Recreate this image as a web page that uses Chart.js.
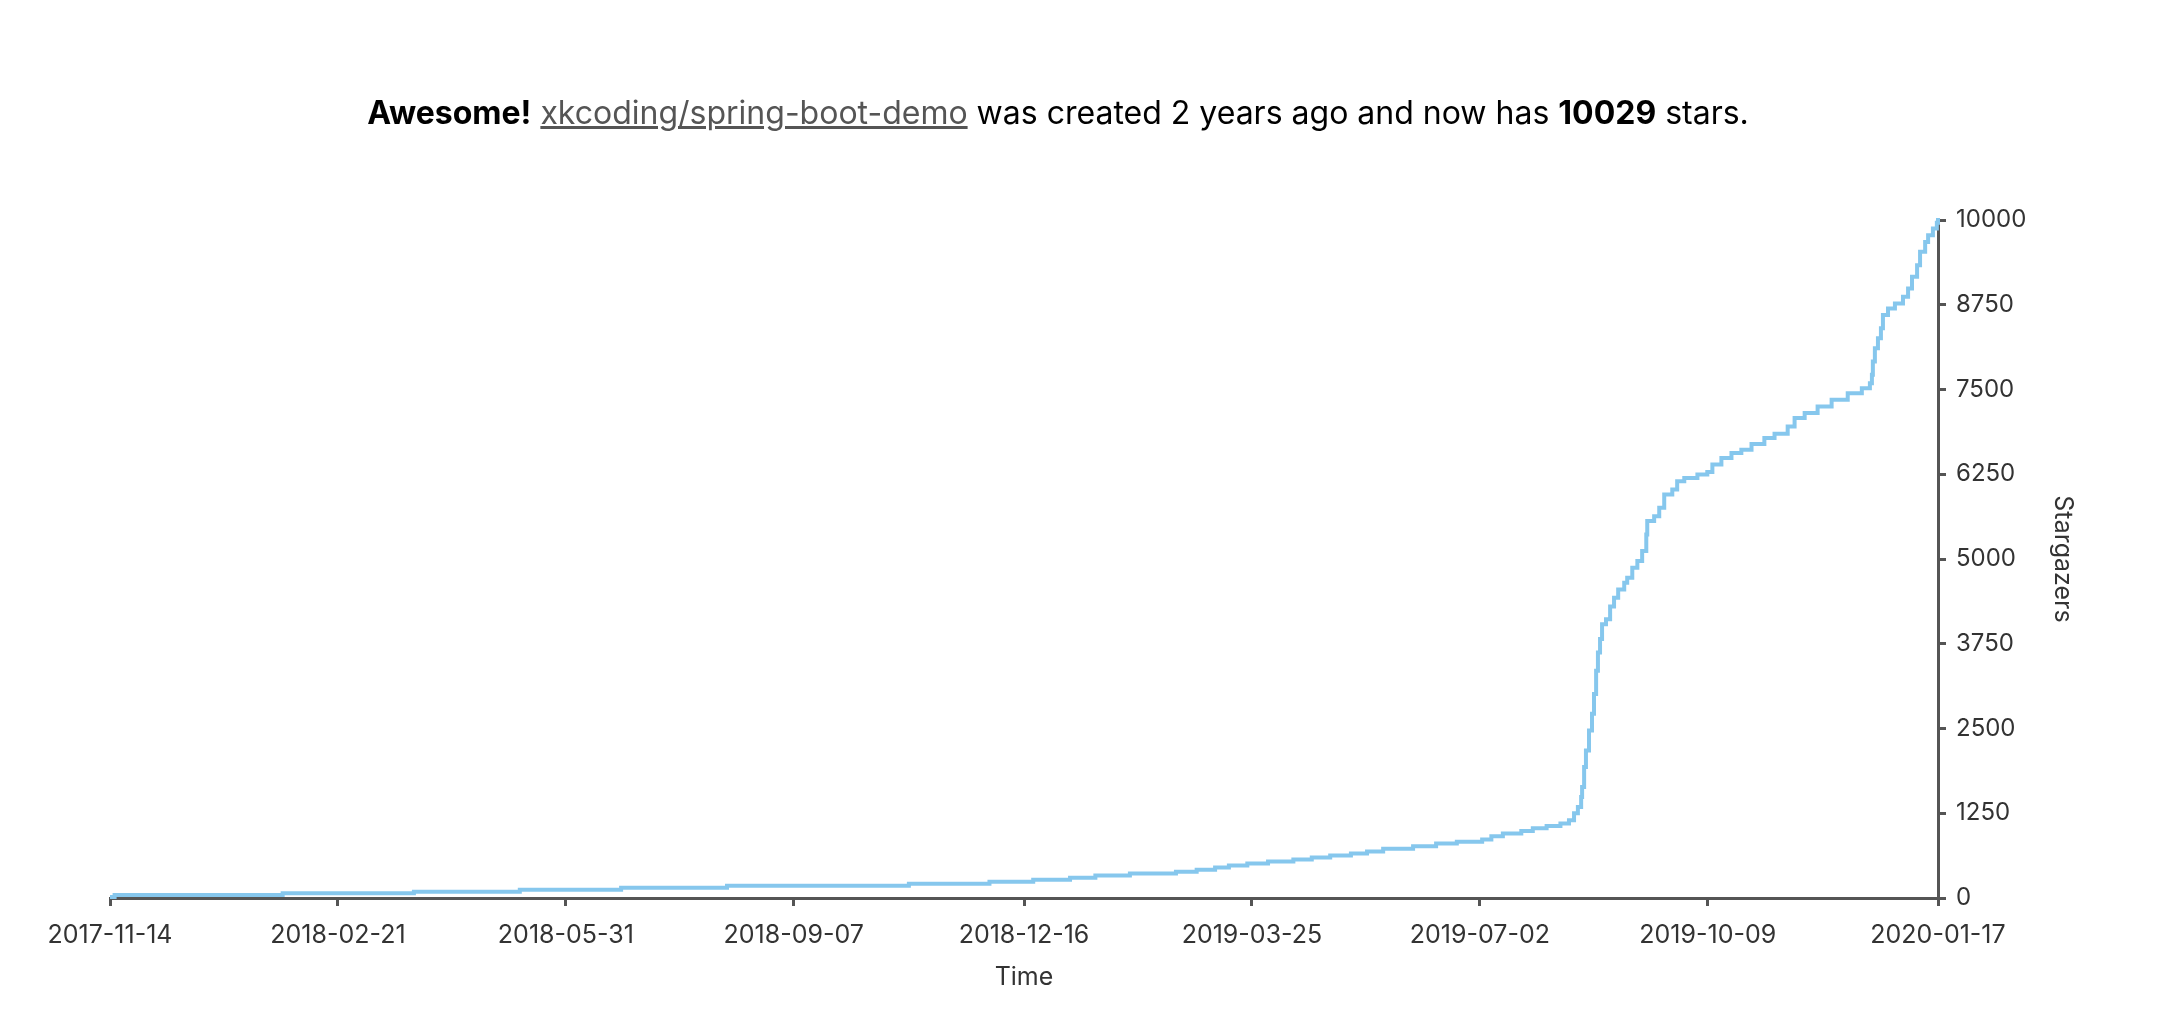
<!DOCTYPE html>
<html>
<head>
<meta charset="utf-8">
<script src="https://cdn.jsdelivr.net/npm/chart.js@4.4.1/dist/chart.umd.min.js"></script>
<style>
html,body{margin:0;padding:0;background:#fff;}
#wrap{position:relative;width:2160px;height:1014px;overflow:hidden;}
#title{position:absolute;left:0;width:2116px;top:91px;text-align:center;font-family:Inter,"Noto Sans",sans-serif;font-size:32px;color:#000;line-height:44px;white-space:nowrap;}
#title a{color:#555;text-decoration:underline;}
#chart{position:absolute;left:0;top:0;}
</style>
</head>
<body>
<div id="wrap">
<canvas id="chart" width="2160" height="1014"></canvas>
<div id="title"><b>Awesome!</b> <a>xkcoding/spring-boot-demo</a> was created 2 years ago and now has <b>10029</b> stars.</div>
</div>
<script>
const starDates = [
 "2017-11-14","2017-11-16","2018-01-28","2018-03-26","2018-05-11","2018-06-24","2018-08-09",
 "2018-10-27","2018-12-01","2018-12-20","2019-01-05","2019-01-16","2019-01-31","2019-02-20",
 "2019-03-01","2019-03-09","2019-03-15","2019-03-23","2019-04-01","2019-04-12","2019-04-20",
 "2019-04-28","2019-05-07","2019-05-14","2019-05-21","2019-06-03","2019-06-13","2019-06-22",
 "2019-07-03","2019-07-07","2019-07-12","2019-07-20","2019-07-25","2019-07-31","2019-08-06",
 "2019-08-09 17:00","2019-08-11 22:00","2019-08-13 14:00","2019-08-15 00:00","2019-08-15 10:00",
 "2019-08-16 07:00","2019-08-17 02:00","2019-08-18 10:00","2019-08-19 17:00","2019-08-20 14:00",
 "2019-08-21 12:00","2019-08-22 07:00","2019-08-23 05:00","2019-08-24 02:00","2019-08-25 19:00",
 "2019-08-27 14:00","2019-08-29 07:00","2019-08-31 02:00","2019-09-02 17:00","2019-09-04 00:00",
 "2019-09-06 05:00","2019-09-08 10:00","2019-09-10 12:00","2019-09-12 07:00","2019-09-12 17:00",
 "2019-09-15 17:00","2019-09-17 22:00","2019-09-20 02:00","2019-09-23 14:00","2019-09-25 17:00",
 "2019-09-28 19:00","2019-10-04 12:00","2019-10-08 19:00","2019-10-11 00:00","2019-10-14 22:00",
 "2019-10-19 07:00","2019-10-23 14:00","2019-10-28 00:00","2019-11-02 14:00","2019-11-07 00:00",
 "2019-11-12 17:00","2019-11-15 17:00","2019-11-20 02:00","2019-11-25 17:00","2019-12-01 19:00",
 "2019-12-08 19:00","2019-12-14 22:00","2019-12-18 10:00","2019-12-19 07:00","2019-12-19 17:00",
 "2019-12-20 14:00","2019-12-21 22:00","2019-12-23 05:00","2019-12-24 02:00","2019-12-26 07:00",
 "2019-12-29 07:00","2020-01-01 19:00","2020-01-04 00:00","2020-01-05 17:00","2020-01-07 22:00",
 "2020-01-09 05:00","2020-01-11 10:00","2020-01-12 17:00","2020-01-14 19:00","2020-01-16 12:00",
 "2020-01-17 00:00"
];
const starCounts = [
 15,44,69,93,122,152,181,
 210,240,269,299,333,363,387,
 416,451,481,510,539,569,598,
 628,657,687,725,765,804,828,
 863,912,951,990,1029,1063,1097,
 1147,1250,1341,1488,1637,
 1931,2176,2470,2716,3010,
 3353,3622,3819,4039,4113,
 4300,4430,4550,4650,4725,
 4872,4971,5118,5363,5559,
 5632,5755,5951,6025,6147,
 6196,6245,6284,6392,6490,
 6564,6613,6696,6784,6848,
 6956,7078,7152,7250,7348,
 7446,7520,7593,7716,7912,
 8108,8255,8402,8598,8696,
 8770,8868,8990,9162,9334,
 9530,9677,9775,9873,9961,
 10029
];
const xTickLabels = ["2017-11-14","2018-02-21","2018-05-31","2018-09-07","2018-12-16","2019-03-25","2019-07-02","2019-10-09","2020-01-17"];
const yTickValues = [0,1250,2500,3750,5000,6250,7500,8750,10000];

function toMs(s){
  const parts = s.split(" ");
  const d = parts[0].split("-").map(Number);
  let h = 0, m = 0;
  if (parts[1]) { const t = parts[1].split(":").map(Number); h = t[0]; m = t[1] || 0; }
  return Date.UTC(d[0], d[1]-1, d[2], h, m);
}
const points = starDates.map((d,i) => ({x: toMs(d), y: starCounts[i]}));
const xTickValues = xTickLabels.map(toMs);

const FONT = "Inter";
const axisColor = "#555";
const labelColor = "#333";

new Chart(document.getElementById("chart"), {
  type: "line",
  data: { datasets: [{
    data: points,
    borderColor: "#86c7ed",
    borderWidth: 4,
    pointRadius: 0,
    stepped: true,
    fill: false,
    clip: false
  }]},
  options: {
    responsive: false,
    animation: false,
    devicePixelRatio: 1,
    layout: { padding: { left: 110, top: 220, right: 0, bottom: 0 } },
    plugins: { legend: { display: false }, tooltip: { enabled: false }, title: { display: false } },
    scales: {
      x: {
        type: "linear",
        position: "bottom",
        min: xTickValues[0],
        max: xTickValues[xTickValues.length-1],
        afterBuildTicks: s => { s.ticks = xTickValues.map(v => ({value: v})); },
        afterFit: s => { s.height = 116; },
        ticks: {
          autoSkip: false, maxRotation: 0, minRotation: 0,
          callback: (v, i) => xTickLabels[i],
          font: { family: FONT, size: 25 }, color: labelColor, padding: 14
        },
        grid: { drawOnChartArea: false, drawTicks: true, tickLength: 8, color: axisColor, lineWidth: 3 },
        border: { display: true, color: axisColor, width: 3 },
        title: { display: true, text: "Time", font: { family: FONT, size: 25 }, color: labelColor, padding: { top: 0, bottom: 22 } }
      },
      y: {
        type: "linear",
        position: "right",
        min: 0, max: 10000,
        afterBuildTicks: s => { s.ticks = yTickValues.map(v => ({value: v})); },
        afterFit: s => { s.width = 222; },
        ticks: {
          callback: v => String(v),
          font: { family: FONT, size: 24 }, color: labelColor, padding: 10
        },
        grid: { drawOnChartArea: false, drawTicks: true, tickLength: 8, color: axisColor, lineWidth: 3 },
        border: { display: true, color: axisColor, width: 3 },
        title: { display: true, text: "Stargazers", font: { family: FONT, size: 25 }, color: labelColor, padding: { top: 82, bottom: 0 } }
      }
    }
  }
});
</script>
</body>
</html>
